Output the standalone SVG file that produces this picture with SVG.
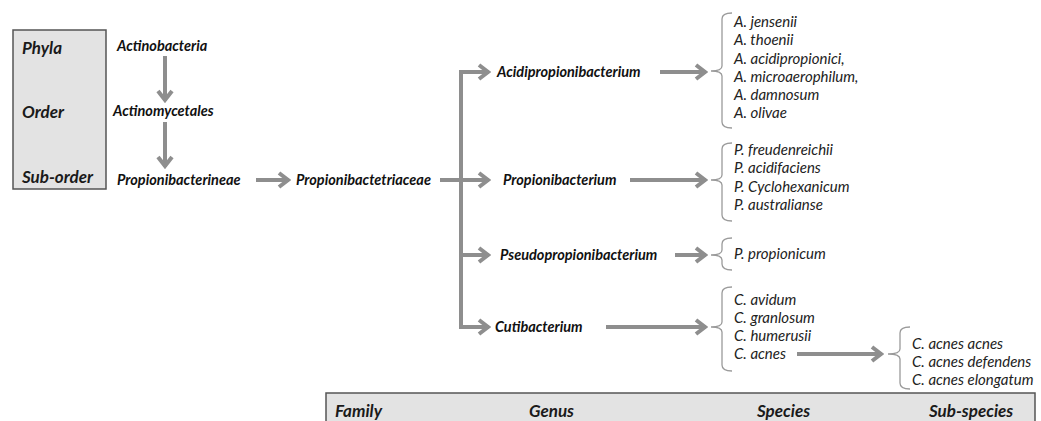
<svg xmlns="http://www.w3.org/2000/svg" width="1041" height="421" viewBox="0 0 1041 421">
<style>
.bg{fill:#ffffff}
.box{fill:#e3e3e3;stroke:#555555;stroke-width:1.5}
.hdr{font-family:Lato,"Liberation Sans",sans-serif;font-weight:bold;font-style:italic;font-size:17px;fill:#1a1a1a}
.tax{font-family:Lato,"Liberation Sans",sans-serif;font-weight:bold;font-style:italic;font-size:14.5px;fill:#111111}
.sp{font-family:Lato,"Liberation Sans",sans-serif;font-style:italic;font-size:15px;fill:#222222}
.arr{fill:none;stroke:#8e8e8e;stroke-width:4;marker-end:url(#ah)}
.ln{fill:none;stroke:#8e8e8e;stroke-width:4}
.brace{fill:none;stroke:#9a9a9a;stroke-width:1.3}
</style>
<defs>
<marker id="ah" viewBox="0 0 14 18" refX="12" refY="9" markerWidth="14" markerHeight="18" markerUnits="userSpaceOnUse" orient="auto">
<path d="M2,2 L11,9 L2,16" fill="none" stroke="#8e8e8e" stroke-width="4" stroke-linejoin="miter"/>
</marker>
</defs>
<rect class="bg" x="0" y="0" width="1041" height="421"/>

<g id="rank-box-left">
<rect class="box" x="13" y="30" width="93" height="159"/>
<text class="hdr" x="22" y="54">Phyla</text>
<text class="hdr" x="22" y="118">Order</text>
<text class="hdr" x="22" y="183">Sub-order</text>
</g>

<g id="rank-box-bottom">
<rect class="box" x="326" y="393" width="709" height="40"/>
<text class="hdr" x="335" y="417">Family</text>
<text class="hdr" x="529" y="417">Genus</text>
<text class="hdr" x="757" y="417">Species</text>
<text class="hdr" x="929" y="417">Sub-species</text>
</g>

<g id="connectors">
<path class="arr" d="M165,56 L165,101"/>
<path class="arr" d="M165,122 L165,167"/>
<path class="arr" d="M256,180 L289,180"/>
<path class="ln" d="M440,180 L461,180"/>
<path class="ln" d="M461,72 L461,327"/>
<path class="arr" d="M459,72 L489,72"/>
<path class="arr" d="M461,180 L489,180"/>
<path class="arr" d="M461,255 L489,255"/>
<path class="arr" d="M459,327 L489,327"/>
<path class="arr" d="M660,72 L706,72"/>
<path class="arr" d="M630,180 L706,180"/>
<path class="arr" d="M675,255 L706,255"/>
<path class="arr" d="M606,327 L706,327"/>
<path class="arr" d="M797,354 L882,354"/>
</g>

<g id="n-actinobacteria"><text class="tax" x="117" y="51">Actinobacteria</text></g>
<g id="n-actinomycetales"><text class="tax" x="113" y="116">Actinomycetales</text></g>
<g id="n-propionibacterineae"><text class="tax" x="117" y="185">Propionibacterineae</text></g>
<g id="n-propionibacteriaceae"><text class="tax" x="296" y="185">Propionibactetriaceae</text></g>
<g id="n-acidipropionibacterium"><text class="tax" x="497" y="77">Acidipropionibacterium</text></g>
<g id="n-propionibacterium"><text class="tax" x="503" y="185">Propionibacterium</text></g>
<g id="n-pseudopropionibacterium"><text class="tax" x="500" y="260">Pseudopropionibacterium</text></g>
<g id="n-cutibacterium"><text class="tax" x="495" y="332">Cutibacterium</text></g>

<g id="n-acidi-species">
<path class="brace" d="M732,13 Q722,13 722,19 L722,66 Q722,71 711,71 Q722,71 722,76 L722,122 Q722,128 732,128"/>
<text class="sp" x="734" y="27">A. jensenii</text>
<text class="sp" x="734" y="45">A. thoenii</text>
<text class="sp" x="734" y="64">A. acidipropionici,</text>
<text class="sp" x="734" y="82">A. microaerophilum,</text>
<text class="sp" x="734" y="100">A. damnosum</text>
<text class="sp" x="734" y="118">A. olivae</text>
</g>

<g id="n-propioni-species">
<path class="brace" d="M732,143 Q722,143 722,149 L722,175 Q722,180 711,180 Q722,180 722,185 L722,215 Q722,221 732,221"/>
<text class="sp" x="734" y="155">P. freudenreichii</text>
<text class="sp" x="734" y="173">P. acidifaciens</text>
<text class="sp" x="734" y="192">P. Cyclohexanicum</text>
<text class="sp" x="734" y="210">P. australianse</text>
</g>

<g id="n-pseudo-species">
<path class="brace" d="M732,238 Q722,238 722,244 L722,250 Q722,255 711,255 Q722,255 722,260 L722,264 Q722,270 732,270"/>
<text class="sp" x="734" y="259">P. propionicum</text>
</g>

<g id="n-cuti-species">
<path class="brace" d="M732,287 Q722,287 722,293 L722,322 Q722,327 711,327 Q722,327 722,332 L722,365 Q722,371 732,371"/>
<text class="sp" x="734" y="305">C. avidum</text>
<text class="sp" x="734" y="323">C. granlosum</text>
<text class="sp" x="734" y="341">C. humerusii</text>
<text class="sp" x="734" y="359">C. acnes</text>
</g>

<g id="n-acnes-subspecies">
<path class="brace" d="M910,327 Q900,327 900,333 L900,349 Q900,354 888,354 Q900,354 900,359 L900,383 Q900,389 910,389"/>
<text class="sp" x="912" y="349">C. acnes acnes</text>
<text class="sp" x="912" y="367">C. acnes defendens</text>
<text class="sp" x="912" y="385">C. acnes elongatum</text>
</g>
</svg>
